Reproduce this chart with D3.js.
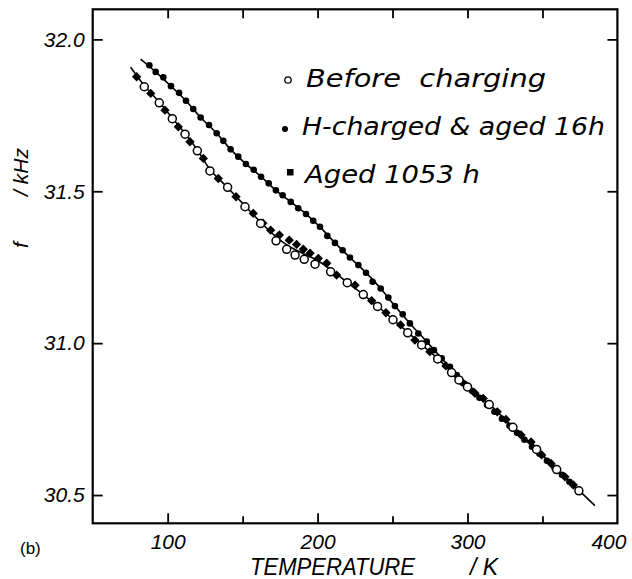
<!DOCTYPE html>
<html>
<head>
<meta charset="utf-8">
<script src="https://cdn.jsdelivr.net/npm/d3@7"></script>
<style>
  html, body { margin: 0; padding: 0; background: #fff; }
  svg { display: block; }
  text { font-family: "Liberation Sans", Arial, sans-serif; font-style: italic; fill: #000; }
</style>
</head>
<body>
<svg id="chart" width="632" height="579"></svg>
<script>
// ---------------- DATA ----------------
const xTicksMajor = [100, 200, 300, 400];
const xTicksAll = [100, 150, 200, 250, 300, 350];
const yTicks = [30.5, 31.0, 31.5, 32.0];
const yTickLabels = ["30.5", "31.0", "31.5", "32.0"];

const legendLabels = ["Before  charging", "H-charged & aged 16h", "Aged 1053 h"];

// Before charging (open circles)
const beforeT = [84.4, 94.4, 103.1, 111.6, 119.8, 128.2, 140, 151.6, 162, 172.3, 179.4, 185, 191.1, 198.3, 208.7, 219.8, 230.5, 240, 250.3, 260.1, 269.4, 280.1, 289.4, 294.3, 300, 314.5, 330.3, 346.1, 359.5, 374.3];
const beforeF = [31.844, 31.791, 31.739, 31.688, 31.633, 31.567, 31.513, 31.449, 31.394, 31.337, 31.309, 31.290, 31.276, 31.260, 31.235, 31.199, 31.160, 31.121, 31.077, 31.034, 30.994, 30.948, 30.903, 30.879, 30.856, 30.798, 30.723, 30.650, 30.584, 30.514];

// H-charged & aged 16h (filled circles)
const hT = [87.8, 92, 97.1, 102.2, 107.6, 112.2, 117.1, 122, 127.6, 132.7, 137.1, 142, 147.1, 152.2, 157.4, 162.3, 167.4, 172.2, 176.7, 182.1, 187.1, 192.3, 197.1, 201.6, 206.5, 211.6, 216.7, 221.6, 227.2, 232.3, 236.7, 242.1, 247.2, 251.6, 256.8, 261.6, 267.2, 272.8, 277.6, 282.8, 288.3, 292.8, 298, 303, 308, 313, 318, 323, 328, 333, 338, 343, 348, 353, 358, 363, 368];
const hF = [31.915, 31.893, 31.875, 31.846, 31.824, 31.798, 31.771, 31.743, 31.718, 31.691, 31.666, 31.638, 31.614, 31.590, 31.571, 31.548, 31.526, 31.503, 31.487, 31.465, 31.444, 31.425, 31.403, 31.383, 31.353, 31.330, 31.306, 31.282, 31.257, 31.232, 31.202, 31.180, 31.150, 31.122, 31.095, 31.065, 31.032, 31.005, 30.977, 30.950, 30.922, 30.895, 30.866, 30.843, 30.820, 30.797, 30.774, 30.751, 30.728, 30.705, 30.682, 30.659, 30.636, 30.613, 30.590, 30.567, 30.544];

// Aged 1053 h (filled squares)
const agedT = [79.3, 88.7, 98.2, 107.1, 114.9, 123.8, 133.8, 145.6, 157.1, 163.5, 168.7, 174.5, 181.1, 186, 190.5, 195, 200.5, 206.1, 212.7, 225, 236.1, 245.6, 255.4, 264.9, 274.9, 285.6, 296.1, 305, 310.5, 319.9, 325.7, 335.7, 342.4, 349.5, 355.7, 365, 370.6];
const agedF = [31.877, 31.822, 31.767, 31.712, 31.663, 31.608, 31.542, 31.482, 31.427, 31.395, 31.372, 31.356, 31.339, 31.325, 31.309, 31.296, 31.279, 31.263, 31.224, 31.191, 31.140, 31.100, 31.060, 31.010, 30.972, 30.925, 30.873, 30.835, 30.818, 30.774, 30.749, 30.698, 30.675, 30.632, 30.604, 30.560, 30.533];

// Fitted curve through "before charging" / aged data
const curveAT = [75.3, 84.4, 94.4, 103.1, 111.6, 119.8, 128.2, 140, 151.6, 162, 172.3, 180, 190, 200, 210, 220, 230.5, 240, 250.3, 260.1, 269.4, 280.1, 289.4, 300, 314.5, 330.3, 346.1, 359.5, 374.3, 385];
const curveAF = [31.908, 31.848, 31.793, 31.741, 31.690, 31.636, 31.572, 31.512, 31.452, 31.398, 31.350, 31.322, 31.296, 31.272, 31.238, 31.199, 31.160, 31.122, 31.078, 31.036, 30.995, 30.950, 30.905, 30.858, 30.799, 30.724, 30.651, 30.585, 30.516, 30.465];

// Fitted curve through H-charged data (merges with curve A)
const curveBT = [82, 92, 102.2, 112.2, 122, 132.7, 142, 152.2, 162.3, 172.2, 182.1, 192.3, 201.6, 211.6, 221.6, 232.3, 242.1, 251.6, 261.6, 272.8, 282.8, 292.8, 300];
const curveBF = [31.935, 31.893, 31.846, 31.798, 31.743, 31.691, 31.638, 31.590, 31.548, 31.503, 31.465, 31.425, 31.383, 31.330, 31.282, 31.232, 31.180, 31.122, 31.065, 31.005, 30.950, 30.895, 30.858];

// ---------------- CHART ----------------
const m = { left: 92.7, top: 9.3, right: 617.4, bottom: 523.3 };
const svg = d3.select("#chart");

const x = d3.scaleLinear().domain([50, 400]).range([m.left, m.right]);
const y = d3.scaleLinear().domain([30.407, 32.099]).range([m.bottom, m.top]);

// Frame
svg.append("rect")
  .attr("x", m.left).attr("y", m.top)
  .attr("width", m.right - m.left).attr("height", m.bottom - m.top)
  .attr("fill", "none").attr("stroke", "#000").attr("stroke-width", 2.2);

// Bottom ticks (inward)
const gB = svg.append("g").attr("transform", `translate(0,${m.bottom})`)
  .call(d3.axisBottom(x).tickValues(xTicksAll).tickSize(-10).tickFormat(""));
gB.select(".domain").remove();
gB.selectAll(".tick line").attr("stroke-width", 1.8)
  .attr("y2", d => xTicksMajor.includes(d) ? -10 : -7);

// Bottom labels
const gBL = svg.append("g").attr("transform", `translate(0,${m.bottom})`)
  .call(d3.axisBottom(x).tickValues(xTicksMajor).tickSize(0).tickPadding(11).tickFormat(d3.format("d")));
gBL.select(".domain").remove();
gBL.selectAll(".tick text")
  .style("font-family", "'Liberation Sans', Arial, sans-serif")
  .style("font-style", "italic").attr("font-size", 21).attr("fill", "#000")
  .attr("dx", d => d === 400 ? -9 : 0);

// Top ticks (inward)
const gT = svg.append("g").attr("transform", `translate(0,${m.top})`)
  .call(d3.axisTop(x).tickValues(xTicksAll).tickSize(-9).tickFormat(""));
gT.select(".domain").remove();
gT.selectAll(".tick line").attr("stroke-width", 1.8);

// Left axis
const gL = svg.append("g").attr("transform", `translate(${m.left},0)`)
  .call(d3.axisLeft(y).tickValues(yTicks).tickSize(-10).tickPadding(8)
    .tickFormat((d, i) => yTickLabels[i]));
gL.select(".domain").remove();
gL.selectAll(".tick line").attr("stroke-width", 1.8);
gL.selectAll(".tick text")
  .style("font-family", "'Liberation Sans', Arial, sans-serif")
  .style("font-style", "italic").attr("font-size", 21).attr("fill", "#000");

// Right ticks
const gR = svg.append("g").attr("transform", `translate(${m.right},0)`)
  .call(d3.axisRight(y).tickValues(yTicks).tickSize(-10).tickFormat(""));
gR.select(".domain").remove();
gR.selectAll(".tick line").attr("stroke-width", 1.8);

// Curves
const line = d3.line().x(d => x(d[0])).y(d => y(d[1])).curve(d3.curveCatmullRom.alpha(0.5));
svg.append("path").datum(curveAT.map((t, i) => [t, curveAF[i]]))
  .attr("d", line).attr("fill", "none").attr("stroke", "#000").attr("stroke-width", 1.6);
svg.append("path").datum(curveBT.map((t, i) => [t, curveBF[i]]))
  .attr("d", line).attr("fill", "none").attr("stroke", "#000").attr("stroke-width", 1.6);

// Aged squares (drawn as diamonds-ish squares)
const sq = 6.6;
svg.append("g").selectAll("rect").data(agedT.map((t, i) => [t, agedF[i]])).join("rect")
  .attr("x", d => x(d[0]) - sq / 2).attr("y", d => y(d[1]) - sq / 2)
  .attr("width", sq).attr("height", sq).attr("fill", "#000")
  .attr("transform", d => `rotate(45,${x(d[0])},${y(d[1])})`);

// H-charged filled circles
svg.append("g").selectAll("circle").data(hT.map((t, i) => [t, hF[i]])).join("circle")
  .attr("cx", d => x(d[0])).attr("cy", d => y(d[1])).attr("r", 3.3).attr("fill", "#000");

// Before charging open circles
svg.append("g").selectAll("circle").data(beforeT.map((t, i) => [t, beforeF[i]])).join("circle")
  .attr("cx", d => x(d[0])).attr("cy", d => y(d[1])).attr("r", 4)
  .attr("fill", "#fff").attr("stroke", "#000").attr("stroke-width", 1.5);

// Legend
const lg = svg.append("g");
lg.append("circle").attr("cx", 288).attr("cy", 80).attr("r", 3.2)
  .attr("fill", "#fff").attr("stroke", "#000").attr("stroke-width", 1.3);
lg.append("circle").attr("cx", 285).attr("cy", 129).attr("r", 3).attr("fill", "#000");
lg.append("rect").attr("x", 287).attr("y", 169).attr("width", 6.5).attr("height", 6.5).attr("fill", "#000");
const legX = [306, 302, 305];
const legY = [87, 135, 183];
const legW = [240, 303, 175];
legendLabels.forEach((s, i) => {
  lg.append("text").attr("x", legX[i]).attr("y", legY[i])
    .style("font-family", "'DejaVu Sans', sans-serif")
    .attr("font-size", 24).attr("textLength", legW[i]).attr("lengthAdjust", "spacingAndGlyphs")
    .style("white-space", "pre").text(s);
});

// Axis titles
svg.append("text").attr("x", 250).attr("y", 575).attr("font-size", 23)
  .attr("textLength", 165).attr("lengthAdjust", "spacingAndGlyphs").text("TEMPERATURE");
svg.append("text").attr("x", 470).attr("y", 575).attr("font-size", 23).style("white-space", "pre").text("/ K");

svg.append("text").attr("transform", "translate(28,245) rotate(-90)")
  .attr("font-size", 21).attr("text-anchor", "middle").text("f");
svg.append("text").attr("transform", "translate(28,172) rotate(-90)")
  .attr("font-size", 21).attr("text-anchor", "middle").text("/ kHz");

svg.append("text").attr("x", 20).attr("y", 554).attr("font-size", 17)
  .style("font-style", "normal").text("(b)");
</script>
</body>
</html>
